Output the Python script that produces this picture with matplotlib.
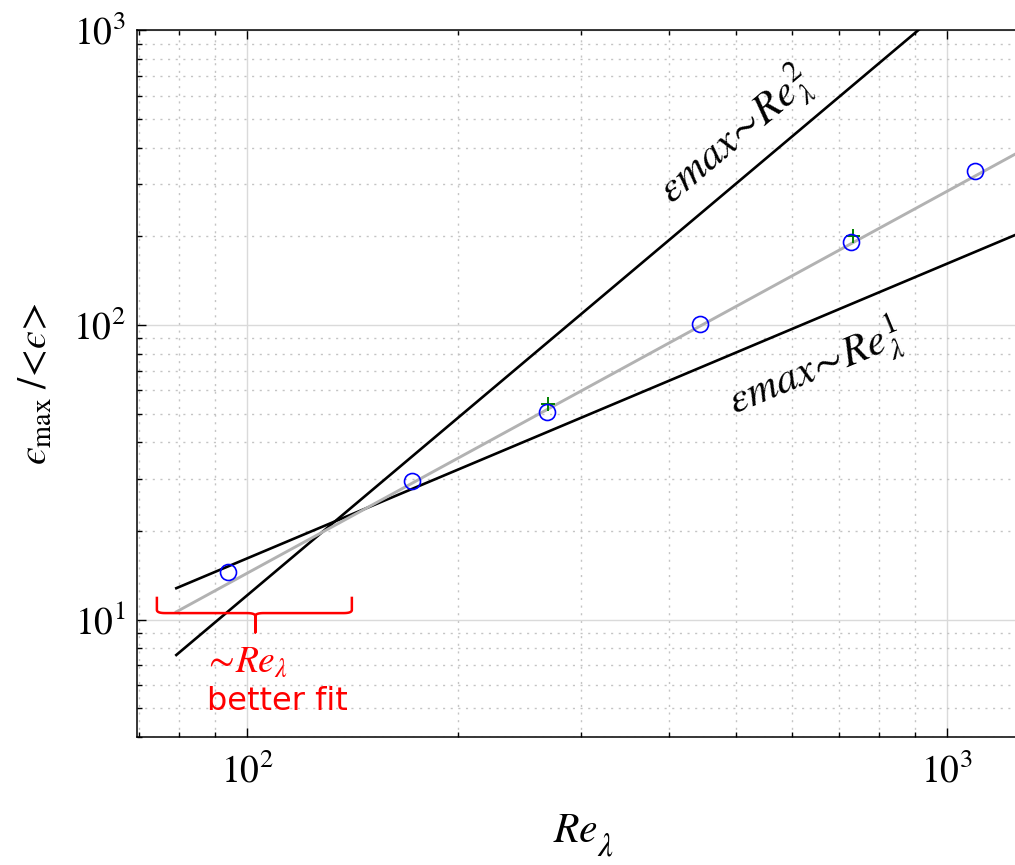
import numpy as np
import matplotlib
matplotlib.use("Agg")
matplotlib.rcParams.update({"font.family": "STIXGeneral", "mathtext.fontset": "stix"})
import matplotlib.pyplot as plt
from matplotlib.ticker import LogLocator, NullFormatter

# measured peak dissipation vs Taylor Reynolds number
re_lambda = [93.9, 172.1, 268.3, 443.6, 729.5, 1096.0]
eps_ratio = [14.5, 29.6, 50.7, 100.5, 191.0, 333.0]

# second estimate at two of the runs
re_check = [269.0, 734.0]
eps_check = [54.0, 200.0]

# power laws  eps_max/<eps> = c * Re^p
re_span = [79.2, 1400.0]
c_sq, p_sq = 1.21e-3, 2.0
c_lin, p_lin = 0.1615, 1.0
c_fit, p_fit = 0.0368, 1.296


def power(c, p, x):
    x = np.asarray(x, dtype=float)
    return c * x ** p


def brace(x0, xm, x1, y_top, y_mid, y_tip, r=0.012):
    """Horizontal curly brace in log10 space, tip pointing down."""
    lx0, lxm, lx1 = np.log10([x0, xm, x1])
    lyt, lym, lyp = np.log10([y_top, y_mid, y_tip])
    t = np.linspace(0, 1, 12)

    def q(p0, p1, p2):
        p0, p1, p2 = map(np.asarray, (p0, p1, p2))
        return ((1 - t)[:, None] ** 2 * p0 + 2 * ((1 - t) * t)[:, None] * p1
                + (t ** 2)[:, None] * p2)

    ry = r * 0.9
    segs = [
        np.array([[lx0, lyt], [lx0, lym + ry]]),
        q([lx0, lym + ry], [lx0, lym], [lx0 + r, lym]),
        np.array([[lx0 + r, lym], [lxm - r, lym]]),
        q([lxm - r, lym], [lxm, lym], [lxm, lym - ry]),
        np.array([[lxm, lym - ry], [lxm, lyp]]),
        np.array([[lxm, lym - ry]]),
        q([lxm, lym - ry], [lxm, lym], [lxm + r, lym]),
        np.array([[lxm + r, lym], [lx1 - r, lym]]),
        q([lx1 - r, lym], [lx1, lym], [lx1, lym + ry]),
        np.array([[lx1, lym + ry], [lx1, lyt]]),
    ]
    pts = np.vstack(segs)
    return 10 ** pts[:, 0], 10 ** pts[:, 1]


fig = plt.figure(figsize=(10.15, 8.65), dpi=100)
ax = fig.add_axes([0.135, 0.148, 0.865, 0.817])
ax.set_xscale("log")
ax.set_yscale("log")

ax.plot(re_span, power(c_sq, p_sq, re_span), color="black", lw=1.9, zorder=3)
ax.plot(re_span, power(c_lin, p_lin, re_span), color="black", lw=1.9, zorder=3)
ax.plot(re_span, power(c_fit, p_fit, re_span), color="#b2b2b2", lw=2.1, zorder=3)

ax.plot(re_check, eps_check, "+", color="#008000", ms=10, mew=1.4, zorder=4)
ax.plot(re_lambda, eps_ratio, "o", mfc="none", mec="blue", ms=11.5, mew=1.2, zorder=5)

bx, by = brace(74.3, 102.7, 141.1, 11.97, 10.53, 9.06)
ax.plot(bx, by, color="red", lw=1.8, solid_capstyle="butt", zorder=6)

ax.text(99.3, 7.13, r"$\sim\!Re_{\lambda}$", color="red", fontsize=27,
        ha="center", va="center")
ax.text(110.4, 5.26, "better fit", color="red", fontsize=23,
        family="DejaVu Sans", ha="center", va="center")

ax.text(498, 437, "$εmax\\!\\sim\\!Re_{\\lambda}^{2}$", fontsize=31,
        rotation=40, rotation_mode="anchor", ha="center", va="center")
ax.text(647, 71, "$εmax\\!\\sim\\!Re_{\\lambda}^{1}$", fontsize=31,
        rotation=22.5, rotation_mode="anchor", ha="center", va="center")

ax.set_xlim(69.6, 1250)
ax.set_ylim(4, 1000)

for axis in (ax.xaxis, ax.yaxis):
    axis.set_major_locator(LogLocator(base=10))
    axis.set_minor_locator(LogLocator(base=10, subs=np.arange(2, 10)))
    axis.set_minor_formatter(NullFormatter())

ax.grid(True, which="major", color="#dadada", lw=1.0, ls="-")
ax.grid(True, which="minor", color="#c4c4c4", lw=1.0, ls=(0, (1.5, 4)))
ax.set_axisbelow(True)

ax.spines["right"].set_visible(False)
for s in ("left", "bottom", "top"):
    ax.spines[s].set_linewidth(1.1)

ax.tick_params(which="both", direction="in", top=True, right=False, width=1.0)
ax.tick_params(which="major", length=6.5, labelsize=27)
ax.tick_params(which="minor", length=3.5)
ax.tick_params(axis="x", which="major", pad=12)
ax.tick_params(axis="y", which="major", pad=8)

ax.set_ylabel("$ϵ_{\\mathrm{max}}\\;/\\!<\\!ϵ\\!>$", fontsize=29, labelpad=13)
ax.set_xlabel(r"$Re$", fontsize=30, labelpad=16)
# the lambda subscript sits well below the Re baseline
fig.text(0.596, 0.003, r"$\lambda$", fontsize=24, ha="center", va="bottom")

fig.savefig("out.png", dpi=100)
